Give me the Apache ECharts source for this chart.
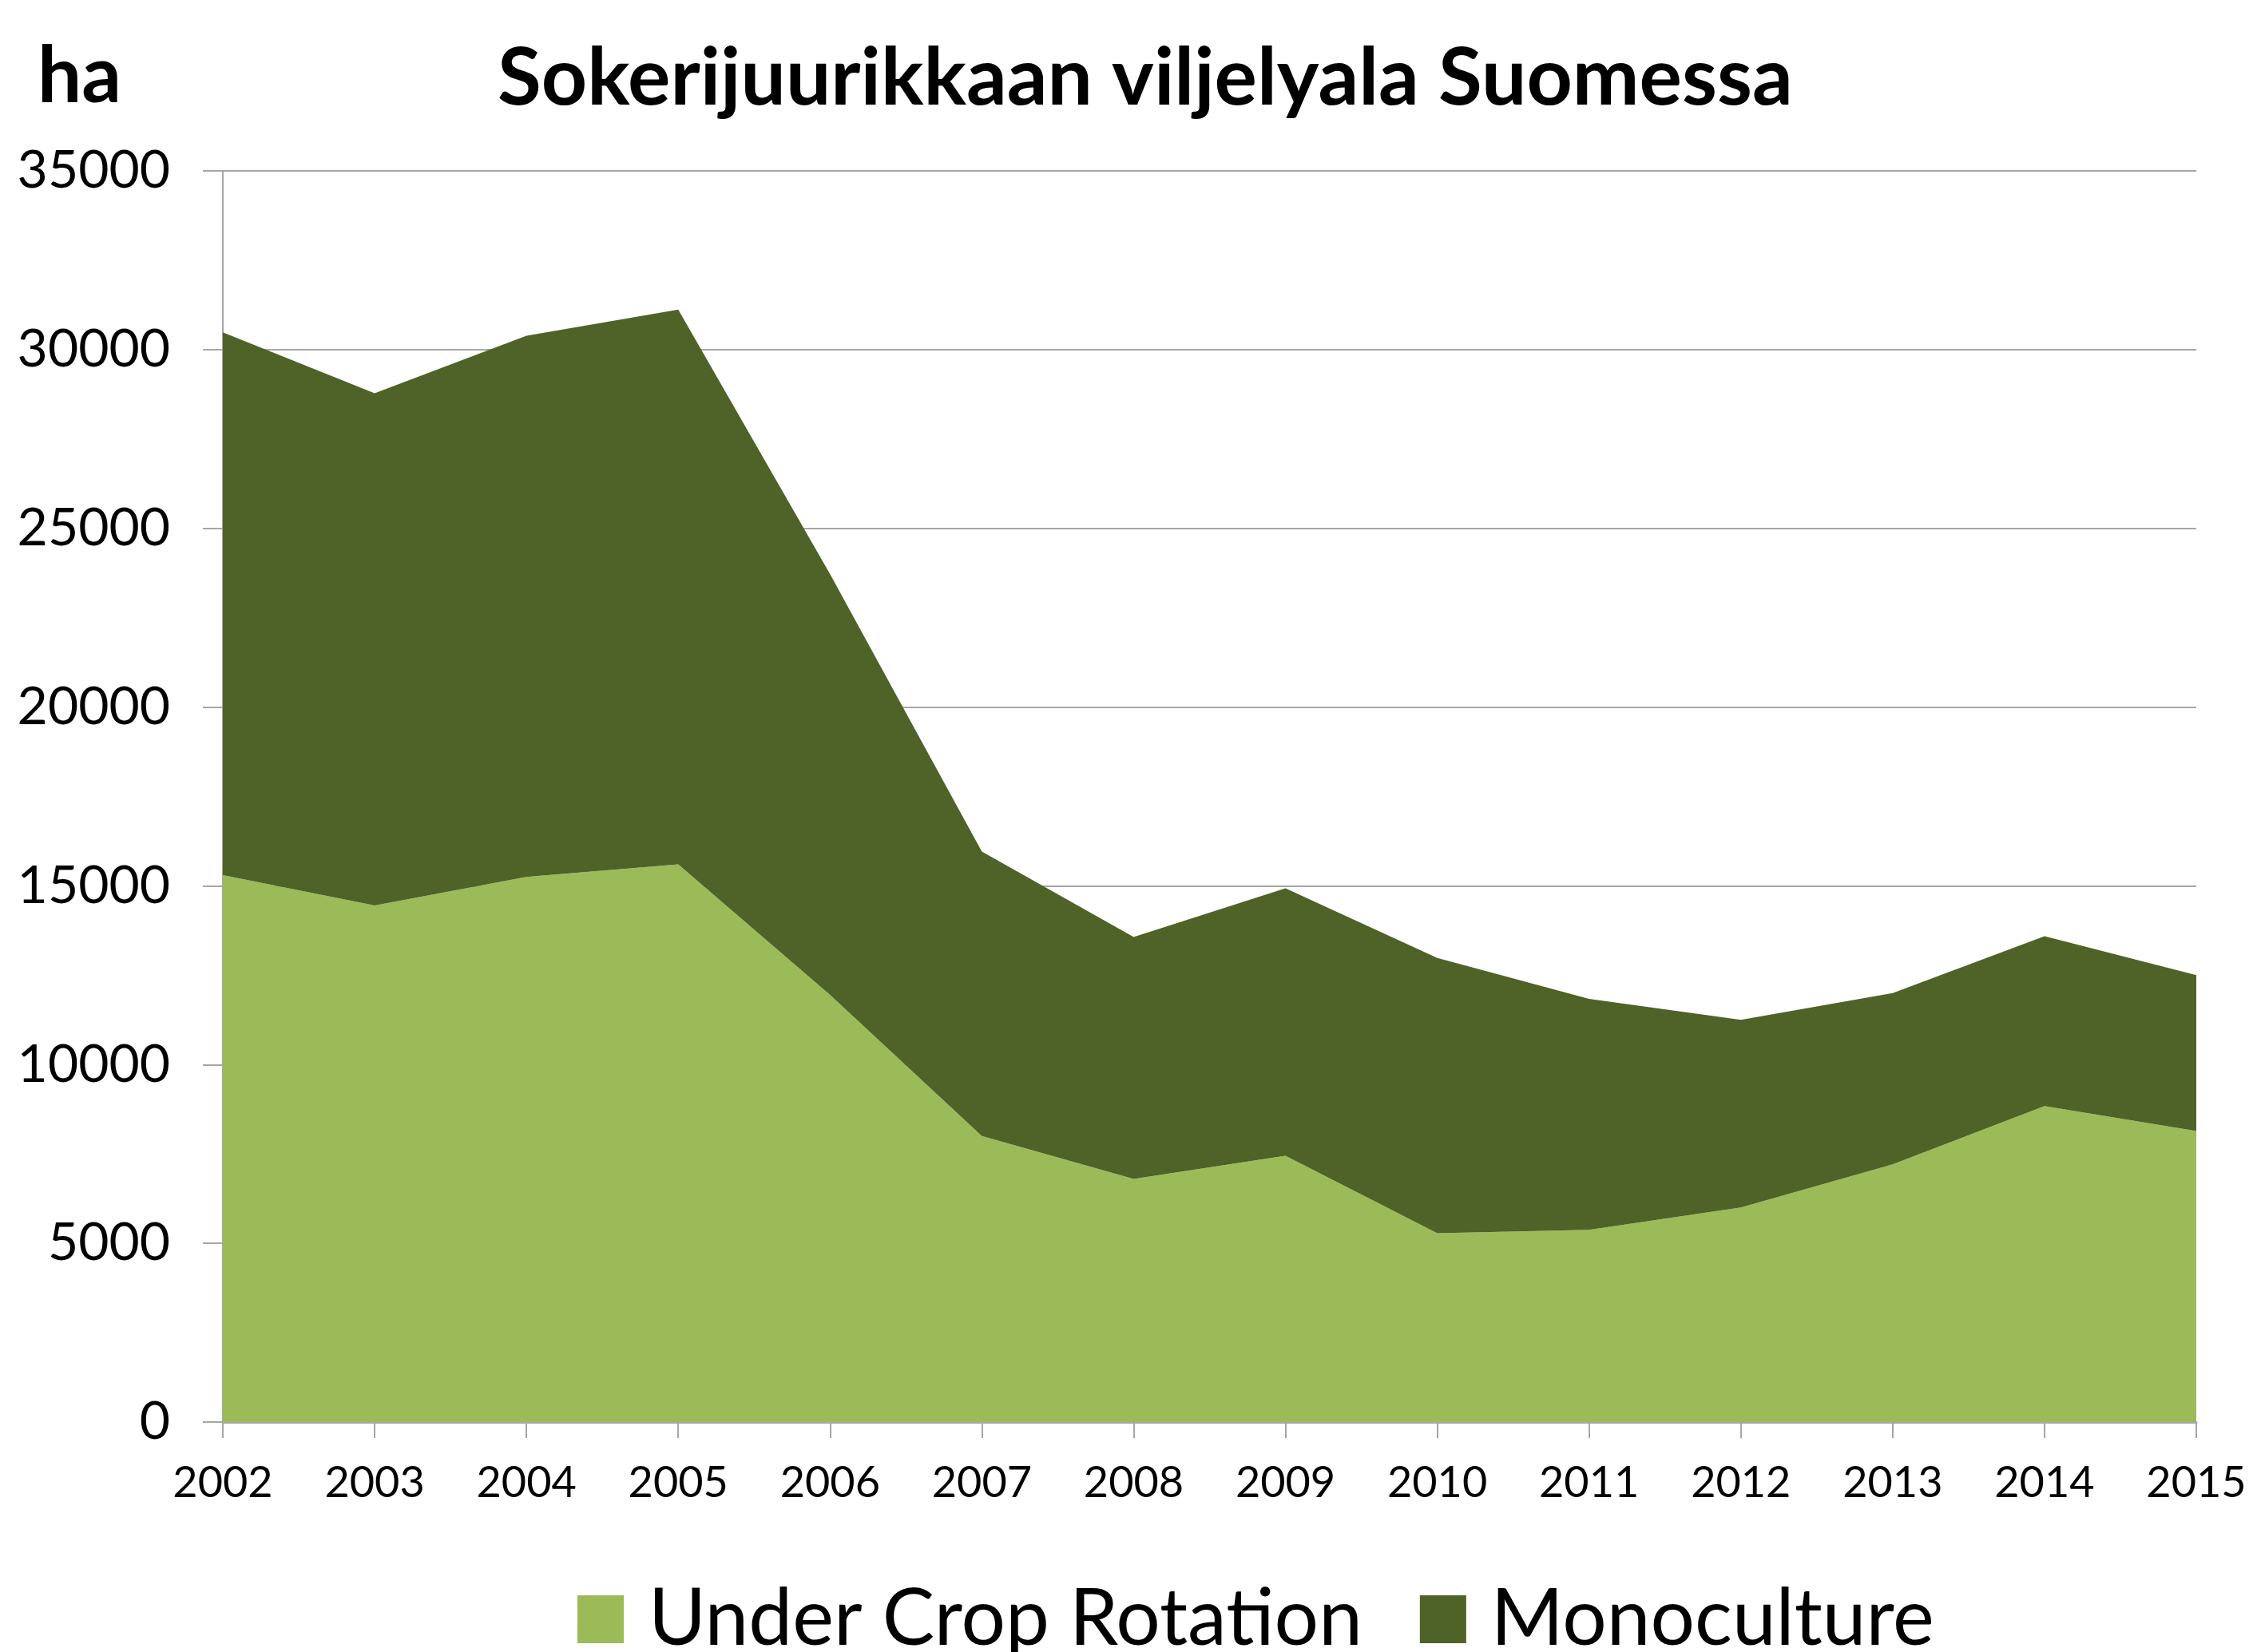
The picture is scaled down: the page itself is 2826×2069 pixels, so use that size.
<!DOCTYPE html>
<html>
<head>
<meta charset="utf-8">
<script src="https://cdn.jsdelivr.net/npm/echarts@6/dist/echarts.min.js"></script>
<style>
  html, body { margin: 0; padding: 0; background: #fff; }
  #area-chart { width: 2826px; height: 2069px; }
</style>
</head>
<body>
<div id="area-chart"></div>
<script>
const years = ['2002', '2003', '2004', '2005', '2006', '2007', '2008',
  '2009', '2010', '2011', '2012', '2013', '2014', '2015']
const cropRotation = [15300, 14450, 15250, 15600, 11950, 8000, 6800,
  7450, 5280, 5380, 6000, 7210, 8840, 8140]
const monoculture = [15180, 14330, 15140, 15520, 11770, 7960, 6770,
  7480, 7700, 6460, 5250, 4790, 4750, 4360]
const seriesNames = ['Under Crop Rotation', 'Monoculture']

const fontName = 'Lato'
const gridColor = '#a6a6a6'

const chartInstance = echarts.init(document.getElementById('area-chart'))

chartInstance.setOption({
  animation: false,
  color: ['#9bbb59', '#4f6228'],
  title: [
    {
      text: 'Sokerijuurikkaan viljelyala Suomessa',
      left: 618,
      top: 44,
      textStyle: { fontFamily: fontName, fontWeight: 'bold', fontSize: 100, color: '#000' }
    },
    {
      text: 'ha',
      left: 42,
      top: 42,
      textStyle: { fontFamily: fontName, fontWeight: 'bold', fontSize: 98, color: '#000' }
    }
  ],
  legend: {
    data: seriesNames,
    top: 1974,
    left: 718,
    icon: 'rect',
    itemWidth: 58,
    itemHeight: 60,
    itemGap: 72,
    textStyle: {
      fontFamily: fontName,
      fontSize: 98,
      lineHeight: 60,
      color: '#000',
      padding: [0, 0, 0, 26]
    }
  },
  grid: {
    left: 279,
    right: 76,
    top: 214,
    bottom: 288
  },
  xAxis: {
    type: 'category',
    boundaryGap: false,
    data: years,
    axisLine: { show: true, lineStyle: { color: gridColor, width: 3 } },
    axisTick: { show: true, length: 20, lineStyle: { color: gridColor, width: 2 } },
    axisLabel: { fontFamily: fontName, fontSize: 54, color: '#000', margin: 50 }
  },
  yAxis: {
    type: 'value',
    min: 0,
    max: 35000,
    interval: 5000,
    axisLine: { show: true, lineStyle: { color: gridColor, width: 2 } },
    axisTick: { show: true, length: 25, lineStyle: { color: gridColor, width: 2 } },
    axisLabel: {
      fontFamily: fontName,
      fontSize: 66,
      color: '#000',
      margin: 66,
      formatter: (value) => String(value)
    },
    splitLine: { show: true, lineStyle: { color: gridColor, width: 2 } }
  },
  series: [
    {
      name: seriesNames[0],
      type: 'line',
      stack: 'total',
      data: cropRotation,
      symbol: 'none',
      lineStyle: { width: 0 },
      areaStyle: { opacity: 1 }
    },
    {
      name: seriesNames[1],
      type: 'line',
      stack: 'total',
      data: monoculture,
      symbol: 'none',
      lineStyle: { width: 0 },
      areaStyle: { opacity: 1 }
    }
  ]
})
</script>
</body>
</html>
